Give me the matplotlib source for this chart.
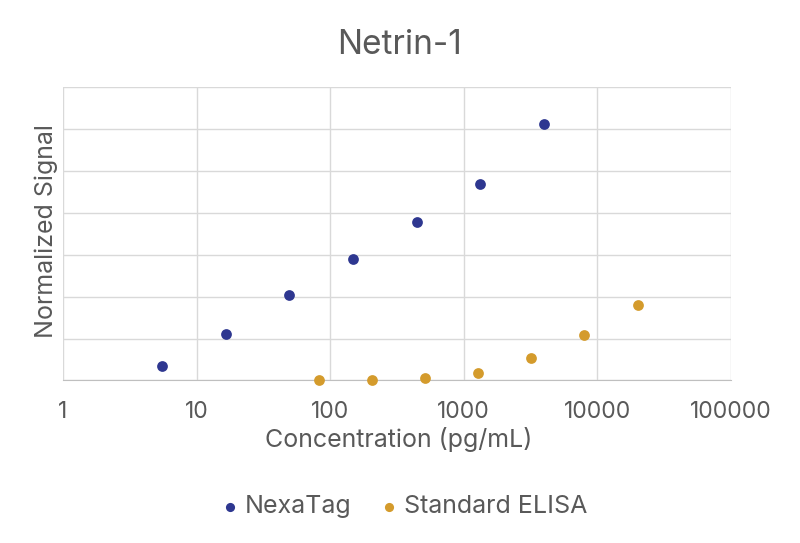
import matplotlib
matplotlib.use("Agg")
import matplotlib.pyplot as plt
from matplotlib.ticker import FixedLocator, NullFormatter, NullLocator

plt.rcParams['font.family'] = ['Inter', 'DejaVu Sans']

# data (y in gridline units)
nexatag_conc = [5.5, 16.5, 49.4, 148, 444, 1333, 4000]
nexatag_signal = [0.35, 1.12, 2.05, 2.89, 3.77, 4.69, 6.11]
elisa_conc = [81.9, 205, 512, 1280, 3200, 8000, 20000]
elisa_signal = [0.0, 0.02, 0.05, 0.17, 0.53, 1.09, 1.80]
x_ticks = [1, 10, 100, 1000, 10000, 100000]
x_tick_labels = ['1', '10', '100', '1000', '10000', '100000']

text_color = '#595959'
grid_color = '#d9d9d9'

fig = plt.figure(figsize=(8, 5.43), dpi=100)
ax = fig.add_axes([0.07875, 0.2993, 0.835, 0.5405])

ax.set_xscale('log')
ax.set_xlim(1, 100000)
ax.set_ylim(0, 7)
ax.xaxis.set_major_locator(FixedLocator(x_ticks))
ax.xaxis.set_minor_locator(NullLocator())
ax.set_xticks(x_ticks)
ax.set_xticklabels(x_tick_labels)
ax.set_yticks(range(0, 8))
ax.yaxis.set_major_formatter(NullFormatter())
ax.tick_params(length=0, labelsize=16.5, colors=text_color)
ax.tick_params(axis='x', pad=15)
ax.grid(True, color=grid_color, linewidth=1)
ax.set_axisbelow(True)
for side in ['top', 'right', 'left']:
    ax.spines[side].set_visible(False)
ax.spines['bottom'].set_color('#bfbfbf')

ax.scatter(nexatag_conc, nexatag_signal, s=60, color='#2e3790', label='NexaTag',
           zorder=3, clip_on=False, linewidths=0)
ax.scatter(elisa_conc, elisa_signal, s=60, color='#d49b2c', label='Standard ELISA',
           zorder=3, clip_on=False, linewidths=0)

fig.text(0.4994, 0.9006, 'Netrin-1', fontsize=24, color=text_color,
         ha='center', va='baseline')
fig.text(0.498, 0.1773, 'Concentration (pg/mL)', fontsize=18, color=text_color,
         ha='center', va='baseline')
ax.set_ylabel('Normalized Signal', fontsize=18, color=text_color)
ax.yaxis.set_label_coords(-0.0075, 0.509)

ax.legend(loc='center', bbox_to_anchor=(0.506, 0.0663), bbox_transform=fig.transFigure,
          ncol=2, frameon=False, fontsize=18, labelcolor=text_color,
          handlelength=0.6, handletextpad=0.3, columnspacing=1.2, markerscale=0.85,
          borderpad=0, borderaxespad=0)

fig.savefig('out.png', dpi=100, facecolor='white')
